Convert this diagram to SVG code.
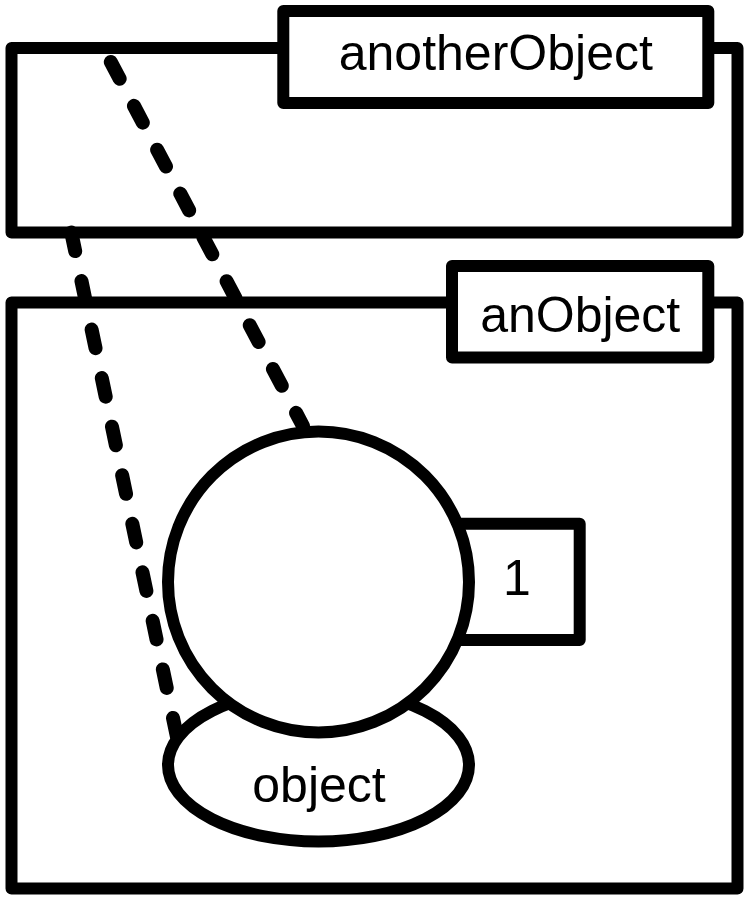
<svg xmlns="http://www.w3.org/2000/svg" width="749" height="900" viewBox="0 0 749 900">
<style>
.s{fill:#fff;stroke:#000;stroke-width:12;stroke-linejoin:round}
.t{font-family:"Liberation Sans",Arial,sans-serif;font-size:50px;fill:#000;text-anchor:middle}
.c{fill:none;stroke:#000;stroke-width:14;stroke-linecap:round;stroke-dasharray:19 30.6}
</style>
<rect width="749" height="900" fill="#fff"/>
<g id="anotherObject">
<rect class="s" x="11.5" y="48" width="726" height="184.5"/>
<rect class="s" x="283.3" y="11" width="425" height="92"/>
<text class="t" x="495.8" y="70">anotherObject</text>
</g>
<g id="anObject">
<rect class="s" x="11.5" y="302.5" width="726" height="586"/>
<rect class="s" x="452" y="266" width="256.3" height="91.5"/>
<text class="t" x="580.2" y="331.7">anObject</text>
</g>
<g id="connectors">
<line class="c" x1="110.8" y1="62" x2="303" y2="426"/>
<line class="c" x1="71.3" y1="232.5" x2="177" y2="737"/>
</g>
<g id="multiplicity">
<rect class="s" x="440" y="523.7" width="139.7" height="116.3"/>
<text class="t" x="517" y="595">1</text>
</g>
<g id="object">
<ellipse class="s" cx="318.5" cy="765" rx="150.5" ry="76.5"/>
<text class="t" x="319" y="802">object</text>
</g>
<g id="instance">
<circle class="s" cx="318.5" cy="582" r="150.5"/>
</g>
</svg>
